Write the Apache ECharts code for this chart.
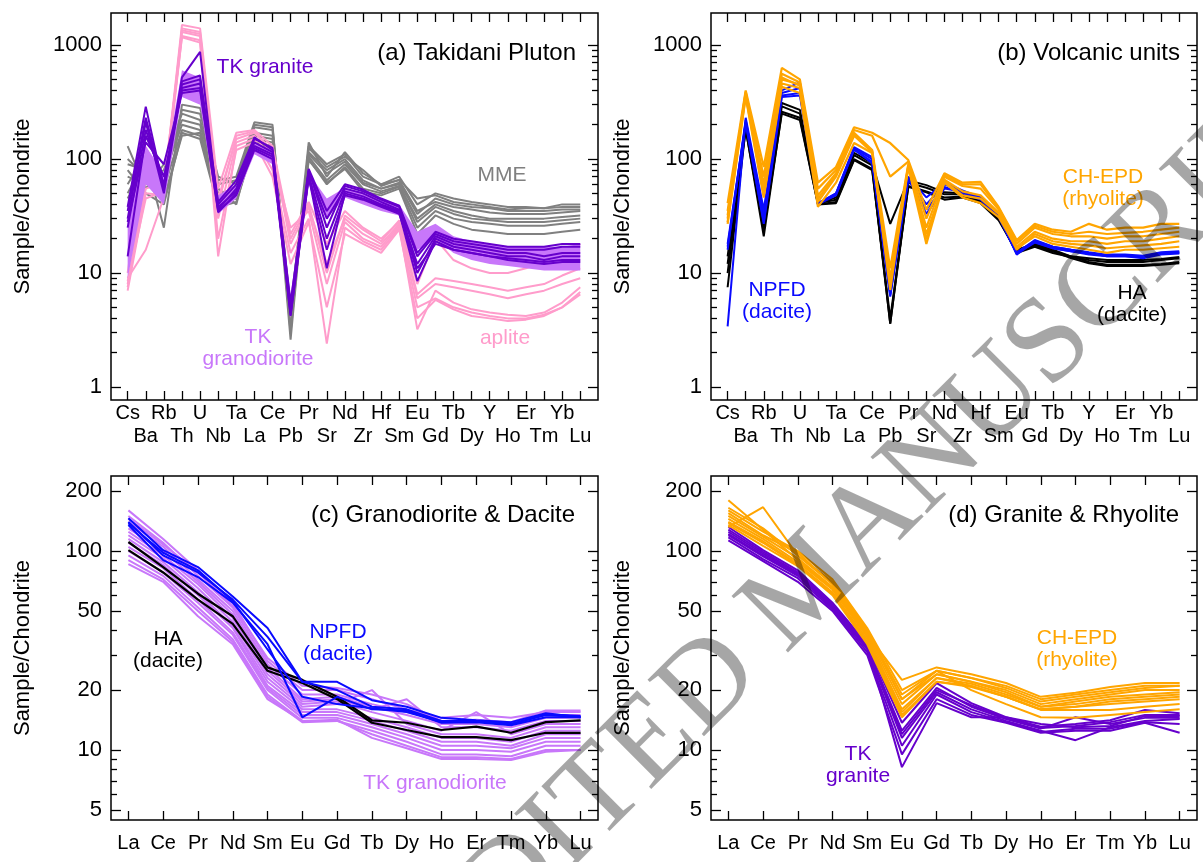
<!DOCTYPE html>
<html>
<head>
<meta charset="utf-8">
<script src="https://cdn.jsdelivr.net/npm/echarts@6/dist/echarts.min.js"></script>
<style>
  html, body { margin: 0; background: #fff; }
  #chart { width: 1203px; height: 862px; }
</style>
</head>
<body>
<div id="chart"></div>
<script>
// element order on the x axes
const traceElements = ['Cs', 'Ba', 'Rb', 'Th', 'U', 'Nb', 'Ta', 'La', 'Ce', 'Pb', 'Pr', 'Sr', 'Nd',
  'Zr', 'Hf', 'Sm', 'Eu', 'Gd', 'Tb', 'Dy', 'Y', 'Ho', 'Er', 'Tm', 'Yb', 'Lu'];
const reeElements = ['La', 'Ce', 'Pr', 'Nd', 'Sm', 'Eu', 'Gd', 'Tb', 'Dy', 'Ho', 'Er', 'Tm', 'Yb', 'Lu'];

// tick values (sample/chondrite)
const traceMajorTicks = [1, 10, 100, 1000];
const traceMinorTicks = [2, 3, 4, 5, 6, 7, 8, 9, 20, 30, 40, 50, 60, 70, 80, 90,
  200, 300, 400, 500, 600, 700, 800, 900];
const reeMajorTicks = [5, 10, 20, 50, 100, 200];
const reeMinorTicks = [6, 7, 8, 9, 30, 40, 60, 70, 80, 90];

// (a) Takidani Pluton
const mmeTrace = [
  [130, 55, 90, 250, 220, 60, 65, 200, 190, 4.5, 140, 70, 115, 75, 60, 70, 40, 50, 45, 42, 40, 38, 38, 37, 40, 40],
  [90, 80, 70, 200, 180, 50, 55, 170, 160, 3.5, 115, 80, 100, 65, 55, 62, 33, 45, 40, 38, 37, 35, 35, 35, 36, 36],
  [60, 110, 45, 160, 170, 45, 50, 150, 140, 4.8, 105, 65, 90, 60, 52, 58, 30, 40, 35, 32, 30, 30, 30, 30, 31, 32],
  [50, 100, 25, 300, 280, 70, 60, 190, 180, 2.6, 130, 90, 110, 70, 60, 65, 35, 42, 38, 36, 34, 33, 33, 33, 34, 35],
  [100, 70, 55, 180, 160, 40, 45, 140, 130, 4.2, 100, 60, 85, 55, 50, 57, 25, 35, 30, 28, 27, 26, 26, 26, 27, 28],
  [70, 60, 80, 220, 200, 55, 40, 160, 150, 5.0, 110, 75, 95, 62, 55, 60, 28, 38, 33, 30, 29, 28, 28, 28, 29, 30],
  [45, 90, 60, 270, 250, 65, 70, 210, 200, 3.0, 125, 85, 105, 80, 58, 66, 45, 48, 42, 40, 38, 36, 37, 37, 38, 38],
  [80, 50, 40, 170, 150, 38, 42, 135, 125, 4.0, 98, 62, 82, 52, 48, 55, 22, 32, 27, 24, 23, 22, 22, 22, 23, 24]
];
const apliteTrace = [
  [10, 127, 55, 1500, 1400, 55, 170, 180, 130, 22, 42, 18, 35, 25, 20, 28, 6.5, 9, 8.5, 8, 7.5, 7, 7.5, 8, 9.5, 11],
  [8, 67, 50, 1400, 1300, 45, 150, 170, 120, 18, 38, 12, 30, 22, 18, 27, 6, 8, 7.5, 7, 6.5, 6, 6.5, 7, 8, 9],
  [7, 50, 48, 1300, 1200, 30, 140, 160, 100, 25, 35, 8, 28, 20, 17, 26, 3.2, 7, 5.5, 4.8, 4.5, 4.3, 4.2, 4.5, 5.5, 7.5],
  [9, 16, 46, 1200, 1100, 14, 130, 150, 80, 15, 30, 2.4, 25, 19, 16, 25, 5, 6, 5, 4.5, 4.2, 4, 4, 4.3, 5, 6.5],
  [7.5, 55, 62, 1170, 1050, 20, 120, 140, 70, 12, 28, 5, 22, 18, 15, 24, 4, 5.8, 4.8, 4.2, 4, 3.8, 3.9, 4.2, 5, 6.8],
  [8.5, 45, 52, 1350, 1250, 40, 160, 175, 110, 20, 40, 10, 32, 24, 19, 29, 8, 20, 13, 11, 10, 10, 11, 12.5, 15, 18]
];
const tkGranodioriteLow = [9, 60, 40, 350, 300, 33, 45, 110, 90, 4.0, 60, 30, 46, 40, 35, 32, 16, 20, 15, 13, 12, 11.5, 11, 10.5, 10.5, 10.5];
const tkGranodioriteHigh = [30, 130, 75, 600, 520, 48, 60, 140, 120, 6.5, 75, 45, 56, 50, 45, 40, 23, 27, 21, 19, 18, 17, 17, 17, 17, 18];
const tkGraniteTrace = [
  [38, 288, 55, 520, 870, 36, 55, 140, 115, 5.0, 78, 30, 55, 50, 42, 36, 12, 21, 18, 17, 16, 15, 15, 14, 15, 15],
  [30, 210, 50, 450, 500, 40, 60, 150, 125, 4.5, 80, 25, 58, 52, 44, 38, 14, 22, 19, 18, 17, 16, 16, 16, 17, 17],
  [25, 180, 60, 420, 460, 38, 52, 130, 110, 4.2, 72, 20, 52, 47, 40, 35, 10, 20, 17, 16, 15, 14, 14, 13, 14, 14],
  [14, 160, 70, 400, 420, 35, 48, 125, 105, 4.8, 70, 11, 50, 45, 39, 34, 8.5, 19, 16, 15, 14, 13.5, 13, 12.5, 13, 13],
  [35, 230, 58, 480, 540, 42, 65, 155, 120, 5.5, 82, 35, 60, 54, 45, 39, 15, 23, 20, 19, 18, 17, 17, 17, 18, 18],
  [28, 140, 90, 380, 400, 34, 50, 120, 100, 4.3, 68, 16, 48, 44, 38, 33, 11, 18, 16, 15, 14, 13, 12.5, 12, 12.5, 12.5]
];

// (b) Volcanic units
const haTrace = [
  [14, 205, 31, 310, 270, 41, 46, 113, 92, 27, 65, 59, 51, 50, 44, 31, 16, 18, 16, 14, 12.5, 11.8, 11.8, 11.8, 12, 12.5],
  [10, 195, 26, 290, 250, 41, 44, 108, 88, 3.6, 62, 56, 49, 49, 43, 30, 15.5, 17.5, 15.5, 13.5, 12.2, 11.5, 11.5, 11.5, 11.8, 12.2],
  [7.5, 185, 21, 260, 230, 40, 42, 100, 82, 3.6, 58, 52, 46, 47, 42, 30, 15, 17, 15, 13.8, 13, 12.5, 12.5, 12.5, 13, 13.5],
  [12, 180, 24, 250, 220, 40, 41, 98, 80, 4, 57, 51, 44, 46, 41, 29, 15.5, 17.2, 15.5, 14, 13.5, 13, 13, 13, 13.3, 13.8]
];
const npfdTrace = [
  [3.4, 230, 36, 400, 470, 41, 50, 127, 104, 7, 70, 46, 62, 53, 46, 33, 15, 19.5, 17, 16, 15, 14, 14, 13.8, 15, 15],
  [16, 220, 32, 380, 420, 40, 50, 124, 100, 6.6, 68, 40, 60, 52, 45, 32, 14.5, 19, 16.5, 15.5, 14.5, 14, 14, 13.5, 14.5, 14.8],
  [18, 210, 28, 360, 380, 40, 48, 120, 95, 6.2, 66, 36, 57, 50, 44, 31, 14.8, 18.5, 16.5, 15.5, 14.8, 14.2, 14.2, 14, 15, 15.2],
  [17, 205, 27, 350, 360, 41, 49, 122, 92, 6.4, 69, 33, 55, 52, 46, 32, 15.2, 19.2, 17, 16, 15.2, 14.5, 14.5, 14.2, 15.2, 15.5]
];
const chEpdTrace = [
  [41, 400, 85, 630, 500, 62, 85, 190, 170, 138, 98, 36, 75, 62, 63, 38, 19.5, 27, 24, 23, 27, 24, 25, 25, 27, 27],
  [35, 380, 70, 560, 470, 55, 80, 180, 160, 70, 95, 30, 72, 60, 60, 37, 19, 26, 23, 22, 23, 22, 22.5, 23, 24, 25],
  [30, 370, 55, 500, 450, 48, 75, 170, 120, 11, 90, 25, 70, 58, 55, 36, 18, 25, 22, 21, 21, 20, 21, 21, 22, 23],
  [28, 360, 48, 460, 420, 42, 70, 160, 115, 9, 88, 20, 66, 52, 48, 34, 17, 23, 20, 19, 19, 18, 19, 19, 20, 21],
  [32, 390, 60, 520, 440, 45, 72, 165, 118, 7.1, 85, 18, 64, 48, 45, 33, 16, 22, 19, 18, 17.5, 16.5, 17, 17.5, 18, 19],
  [27, 350, 46, 430, 380, 38, 62, 138, 113, 8, 86, 22, 62, 46, 41, 31, 16.5, 21, 18, 17, 16, 15, 16, 16, 16.5, 17]
];

// (c) Granodiorite & Dacite
const tkGranodioriteRee = [
  [160, 115, 80, 55, 28, 20, 20, 18, 16, 14.5, 15, 14.5, 15.5, 15.5],
  [150, 110, 75, 52, 27, 19, 19, 17, 15.5, 14, 14, 13.5, 15, 15],
  [140, 105, 72, 50, 26, 18, 18.5, 16.5, 15, 13.5, 13.5, 13, 14.5, 14.5],
  [130, 100, 70, 48, 25, 17.5, 18, 16, 18, 13, 13, 12.5, 14, 14],
  [125, 95, 68, 46, 24, 17, 17.5, 15.5, 14, 12.5, 15.5, 12, 13.5, 13.5],
  [120, 92, 65, 44, 23, 16.5, 17, 20, 13.5, 12, 12, 11.5, 13, 13],
  [115, 88, 62, 42, 22, 16, 16, 14.5, 13, 11.5, 11.5, 11, 12.5, 12.5],
  [110, 85, 60, 41, 21, 15.5, 15.5, 14, 12.5, 11, 11, 10.5, 12, 12],
  [105, 82, 57, 39, 20.5, 15, 15, 13.5, 12, 10.5, 10.5, 10.2, 11.5, 11.5],
  [100, 78, 55, 38, 20, 14.5, 14.5, 13, 11.5, 10, 10, 9.8, 11, 11],
  [95, 75, 52, 36, 19, 14, 14, 12.5, 11, 9.5, 9.5, 9.3, 10.5, 10.5],
  [90, 72, 50, 35, 18.5, 13.8, 14, 12, 10.5, 9.2, 9.2, 9, 10, 10],
  [86, 70, 47, 34, 18, 14, 14.2, 11.5, 10.2, 9, 9, 8.9, 9.8, 10],
  [145, 108, 78, 53, 29, 21, 20.5, 19, 17, 14, 14.2, 13.8, 15.8, 15.8]
];
const haRee = [
  [111, 83, 61, 47, 26, 22.5, 18.5, 14.1, 13.7, 12.6, 13.1, 12.2, 13.8, 14.1],
  [101, 78, 57, 43, 25, 21.7, 18, 13.7, 12.6, 11.6, 11.6, 11.2, 12.2, 12.2]
];
const npfdRee = [
  [146, 101, 83, 59, 41, 22, 22, 17.8, 16.5, 14.5, 14.1, 13.8, 15.3, 14.6],
  [140, 95, 78, 57, 37, 22, 20, 16.5, 16, 14, 14, 13.5, 15, 14.6],
  [135, 90, 74, 55, 34, 14.6, 18.5, 16, 15.8, 13.7, 13.8, 13.3, 14.6, 14.6],
  [138, 98, 80, 56, 32, 18.5, 17, 16.2, 15.5, 13.8, 13.9, 13.5, 15.1, 14.8]
];

// (d) Granite & Rhyolite
const tkGraniteRee = [
  [132, 101, 80, 55, 34, 13.7, 21.7, 17.2, 14.6, 13.1, 13.5, 14.1, 15.9, 15.3],
  [125, 97, 77, 53, 33, 12.5, 20.5, 16.5, 14.3, 12.8, 14.6, 13.5, 14.5, 14.5],
  [120, 94, 75, 52, 32, 11.5, 19.5, 16, 14, 12.5, 11.2, 13, 14, 14.3],
  [117, 91, 73, 51, 31, 10.5, 19, 15.5, 13.8, 12.3, 12.8, 12.8, 13.8, 13.5],
  [113, 89, 70, 50, 30, 9.5, 18, 15, 13.7, 12.2, 12.5, 12.5, 13.7, 12.2],
  [128, 99, 78, 54, 33.5, 8.2, 17.2, 14.6, 14.6, 13.5, 13, 13.2, 14.8, 14.8],
  [122, 95, 76, 52.5, 32.5, 12, 20, 16.8, 14.5, 12.9, 13.2, 13.8, 15, 15]
];
const chEpdRee = [
  [180, 128, 90, 65, 38, 22.5, 26, 24, 21.7, 18.5, 19.4, 20.7, 21.7, 21.7],
  [132, 166, 95, 70, 40, 18, 25, 23, 21, 18, 19, 20, 21, 21],
  [160, 125, 100, 72, 41, 20, 25, 23, 20.5, 17.5, 18.5, 19.5, 20.5, 21],
  [155, 120, 98, 68, 39, 18, 24, 22, 20, 17, 18, 19, 20, 20],
  [150, 118, 92, 66, 38, 17, 24, 22, 19.5, 16.5, 17.5, 18.5, 19, 19.5],
  [145, 115, 88, 64, 37, 16, 23, 21.5, 19, 16.5, 17, 18, 18.5, 19],
  [140, 112, 86, 62, 36, 15.5, 23, 21, 18.5, 16, 16.5, 17.5, 18, 18.5],
  [138, 110, 85, 61, 35, 15, 22, 21, 18.5, 16, 16.5, 17, 17.5, 18],
  [135, 106, 84, 60, 34, 14.6, 22, 20.7, 18.5, 15.9, 15.9, 15.9, 16.5, 17],
  [165, 130, 95, 68, 40, 19, 25, 20, 17, 14.6, 14.5, 15, 15.5, 16]
];

const FONT = '"Liberation Sans", Arial, Helvetica, sans-serif';
const C_GRANITE = '#6600cc';
const C_GRANODIORITE = '#c877fa';
const C_MME = '#808080';
const C_APLITE = '#ff9ccb';
const C_NPFD = '#0a0aff';
const C_HA = '#000000';
const C_CHEPD = '#ffa500';

const log = v => Math.log10(v);
const pts = vals => vals.map((v, i) => [i, log(v)]);

// panel frames, in px; y limits are log10 of sample/chondrite
const panels = [
  { left: 111, top: 13, width: 487, height: 387, xMin: -0.92, xMax: 25.98, yMin: -0.114, yMax: 3.281,
    names: traceElements, major: traceMajorTicks, minor: traceMinorTicks, twoRows: true, labelMargin: 3 },
  { left: 711, top: 13, width: 486, height: 387, xMin: -0.92, xMax: 25.98, yMin: -0.114, yMax: 3.281,
    names: traceElements, major: traceMajorTicks, minor: traceMinorTicks, twoRows: true, labelMargin: 3 },
  { left: 111, top: 476, width: 487, height: 344, xMin: -0.5, xMax: 13.5, yMin: 0.648, yMax: 2.377,
    names: reeElements, major: reeMajorTicks, minor: reeMinorTicks, twoRows: false, labelMargin: 13 },
  { left: 711, top: 476, width: 486, height: 344, xMin: -0.5, xMax: 13.5, yMin: 0.648, yMax: 2.377,
    names: reeElements, major: reeMajorTicks, minor: reeMinorTicks, twoRows: false, labelMargin: 13 }
];

const grid = panels.map(p => ({
  left: p.left, top: p.top, width: p.width, height: p.height,
  show: true, borderColor: '#000', borderWidth: 1.5, backgroundColor: 'transparent'
}));

const tickStyle = { color: '#000', width: 1.3 };
const labelText = { fontSize: 20, fontFamily: FONT, color: '#000' };

const xAxis = [];
const yAxis = [];
panels.forEach((p, gi) => {
  const idx = p.names.map((n, i) => i);
  // element labels alternate between two rows on the trace-element panels
  const row1 = p.twoRows ? idx.filter(i => i % 2 === 0) : idx;
  const row2 = p.twoRows ? idx.filter(i => i % 2 === 1) : [];
  const base = {
    type: 'value', gridIndex: gi, min: p.xMin, max: p.xMax,
    axisLine: { show: false, onZero: false }, splitLine: { show: false }
  };
  xAxis.push(Object.assign({}, base, {
    position: 'bottom',
    axisTick: { show: true, inside: true, length: 9, customValues: idx, lineStyle: tickStyle },
    axisLabel: Object.assign({
      customValues: row1, margin: p.labelMargin, showMinLabel: true, showMaxLabel: true,
      formatter: v => p.names[Math.round(v)]
    }, labelText)
  }));
  xAxis.push(Object.assign({}, base, {
    position: 'bottom',
    axisTick: { show: false },
    axisLabel: Object.assign({
      show: row2.length > 0, customValues: row2, margin: p.labelMargin + 23,
      showMinLabel: true, showMaxLabel: true,
      formatter: v => p.names[Math.round(v)]
    }, labelText)
  }));
  xAxis.push(Object.assign({}, base, {
    position: 'top',
    axisTick: { show: true, inside: true, length: 9, customValues: idx, lineStyle: tickStyle },
    axisLabel: { show: false }
  }));

  ['left', 'right'].forEach(pos => {
    const isLeft = pos === 'left';
    yAxis.push({
      type: 'value', gridIndex: gi, position: pos, min: p.yMin, max: p.yMax,
      axisLine: { show: false, onZero: false }, splitLine: { show: false },
      axisTick: { show: true, inside: true, length: 10, customValues: p.major.map(log), lineStyle: tickStyle },
      axisLabel: {
        show: isLeft, customValues: p.major.map(log), margin: 9,
        showMinLabel: true, showMaxLabel: true,
        fontSize: 22, fontFamily: FONT, color: '#000',
        formatter: v => String(Math.round(Math.pow(10, v)))
      },
      name: isLeft ? 'Sample/Chondrite' : '', nameLocation: 'middle', nameGap: 77,
      nameTextStyle: { fontSize: 22, fontFamily: FONT, color: '#000' }
    });
    yAxis.push({
      type: 'value', gridIndex: gi, position: pos, min: p.yMin, max: p.yMax,
      axisLine: { show: false, onZero: false }, splitLine: { show: false },
      axisTick: { show: true, inside: true, length: 6, customValues: p.minor.map(log), lineStyle: tickStyle },
      axisLabel: { show: false }
    });
  });
});

function lines(samples, gi, color, width, z) {
  return samples.map(vals => ({
    type: 'line', xAxisIndex: gi * 3, yAxisIndex: gi * 4, data: pts(vals),
    symbol: 'none', silent: true, z: z, lineStyle: { color: color, width: width }
  }));
}

// envelope of the TK granodiorite samples in panel (a), drawn as one polygon
const granodioriteBand = {
  type: 'custom', xAxisIndex: 0, yAxisIndex: 0, z: 4, silent: true, data: [[0, 0]],
  renderItem: (params, api) => {
    const upper = tkGranodioriteHigh.map((v, i) => api.coord([i, log(v)]));
    const lower = tkGranodioriteLow.map((v, i) => api.coord([i, log(v)])).reverse();
    return { type: 'polygon', shape: { points: upper.concat(lower) }, style: { fill: C_GRANODIORITE } };
  }
};

const series = [
  ...lines(mmeTrace, 0, C_MME, 2, 2),
  ...lines(apliteTrace, 0, C_APLITE, 2, 3),
  granodioriteBand,
  ...lines(tkGraniteTrace, 0, C_GRANITE, 2, 5),
  ...lines(haTrace, 1, C_HA, 2, 2),
  ...lines(npfdTrace, 1, C_NPFD, 2, 3),
  ...lines(chEpdTrace, 1, C_CHEPD, 2.2, 4),
  ...lines(tkGranodioriteRee, 2, C_GRANODIORITE, 2, 2),
  ...lines(haRee, 2, C_HA, 2.2, 3),
  ...lines(npfdRee, 2, C_NPFD, 2, 4),
  ...lines(tkGraniteRee, 3, C_GRANITE, 2, 2),
  ...lines(chEpdRee, 3, C_CHEPD, 2, 3)
];

function label(text, x, y, color, size, align) {
  return {
    type: 'text', x: x, y: y, z: 50, silent: true,
    style: {
      text: text, fill: color, font: (size || 21) + 'px ' + FONT, lineHeight: (size || 21) + 1,
      textAlign: align || 'center', align: align || 'center',
      textVerticalAlign: 'middle', verticalAlign: 'middle'
    }
  };
}

const graphic = [
  label('(a) Takidani Pluton', 576, 53, '#000', 24, 'right'),
  label('(b) Volcanic units', 1180, 53, '#000', 24, 'right'),
  label('(c) Granodiorite & Dacite', 575, 515, '#000', 24, 'right'),
  label('(d) Granite & Rhyolite', 1179, 515, '#000', 24, 'right'),
  label('TK granite', 265, 67, C_GRANITE),
  label('MME', 502, 175, C_MME),
  label('TK\ngranodiorite', 258, 348, C_GRANODIORITE),
  label('aplite', 505, 338, C_APLITE),
  label('NPFD\n(dacite)', 777, 301, C_NPFD),
  label('CH-EPD\n(rhyolite)', 1103, 188, C_CHEPD),
  label('HA\n(dacite)', 1132, 304, C_HA),
  label('HA\n(dacite)', 168, 650, C_HA),
  label('NPFD\n(dacite)', 338, 643, C_NPFD),
  label('TK granodiorite', 435, 783, C_GRANODIORITE),
  label('TK\ngranite', 858, 765, C_GRANITE),
  label('CH-EPD\n(rhyolite)', 1077, 649, C_CHEPD),
  {
    type: 'text', x: 812, y: 583, rotation: 45 * Math.PI / 180, z: 100, silent: true,
    style: {
      text: 'UNEDITED MANUSCRIPT', fill: 'rgba(0,0,0,0.35)', font: '122px "Liberation Serif", serif',
      textAlign: 'center', align: 'center', textVerticalAlign: 'middle', verticalAlign: 'middle'
    }
  }
];

const chart = echarts.init(document.getElementById('chart'), null, { renderer: 'canvas' });
chart.setOption({
  animation: false,
  backgroundColor: '#fff',
  grid: grid,
  xAxis: xAxis,
  yAxis: yAxis,
  series: series,
  graphic: graphic
});
</script>
</body>
</html>
